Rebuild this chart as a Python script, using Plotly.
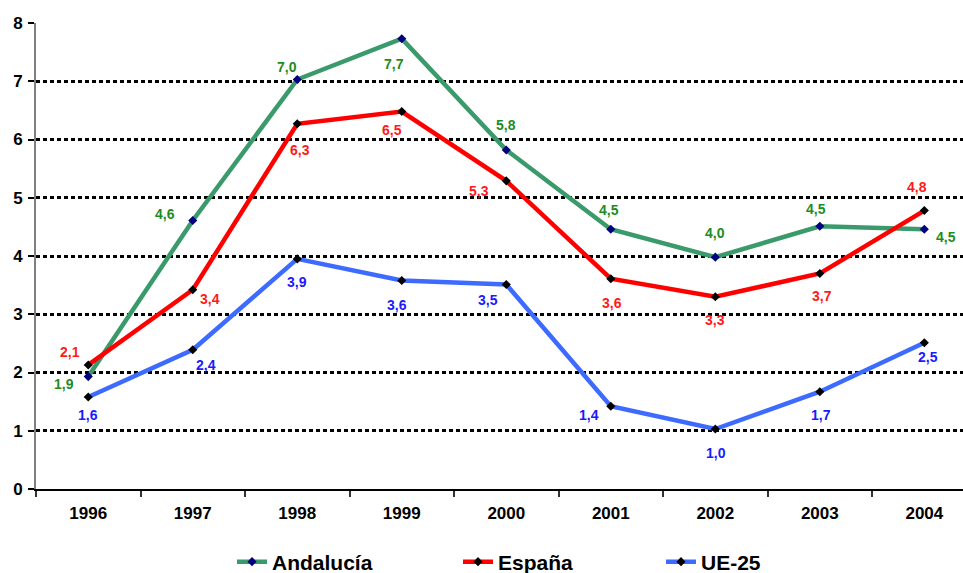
import plotly.graph_objects as go

years = ["1996", "1997", "1998", "1999", "2000", "2001", "2002", "2003", "2004"]

andalucia = [1.93, 4.61, 7.03, 7.73, 5.82, 4.46, 3.98, 4.51, 4.46]
espana = [2.13, 3.42, 6.27, 6.48, 5.29, 3.61, 3.30, 3.70, 4.78]
ue25 = [1.58, 2.39, 3.95, 3.58, 3.51, 1.42, 1.03, 1.67, 2.51]

andalucia_labels = ["1,9", "4,6", "7,0", "7,7", "5,8", "4,5", "4,0", "4,5", "4,5"]
espana_labels = ["2,1", "3,4", "6,3", "6,5", "5,3", "3,6", "3,3", "3,7", "4,8"]
ue25_labels = ["1,6", "2,4", "3,9", "3,6", "3,5", "1,4", "1,0", "1,7", "2,5"]

y_ticks = [0, 1, 2, 3, 4, 5, 6, 7, 8]

# label offsets in pixels (dx right, dy down)
andalucia_off = [(-24, 7), (-28, -6), (-10, -13), (-8, 25), (0, -25), (-2, -19), (0, -24), (-4, -17), (22, 8)]
espana_off = [(-18, -13), (17, 9), (3, 26), (-10, 18), (-27, 10), (1, 24), (0, 23), (2, 23), (-7, -24)]
ue25_off = [(0, 18), (13, 15), (0, 23), (-5, 25), (-18, 15), (-22, 9), (1, 24), (1, 23), (4, 14)]

FONT = "Liberation Sans, Arial, sans-serif"

series = [
    ("Andalucía", andalucia, andalucia_labels, andalucia_off, "#3a9a6b", "#000080", "#1e8c1e", "legend"),
    ("España", espana, espana_labels, espana_off, "#ff0000", "#000000", "#ff1a1a", "legend2"),
    ("UE-25", ue25, ue25_labels, ue25_off, "#3d6bff", "#000000", "#1a1aff", "legend3"),
]

fig = go.Figure()
annotations = []
for name, vals, labels, offs, lcol, mcol, tcol, leg in series:
    fig.add_trace(go.Scatter(
        x=years, y=vals, name=name, mode="lines+markers",
        line=dict(color=lcol, width=4.5),
        marker=dict(symbol="diamond", size=7, color=mcol),
        legend=leg,
    ))
    for idx, (yv, lab, (dx, dy)) in enumerate(zip(vals, labels, offs)):
        annotations.append(dict(
            x=idx, y=yv, xref="x", yref="y", text=lab, showarrow=False,
            xshift=dx, yshift=-dy,
            font=dict(family=FONT, size=14, color=tcol, weight="bold"),
        ))

L, T, B = 36, 23, 84
W, H = 963, 573
pw = W - L
ph = H - T - B

def px_x(p):
    return (p - L) / pw

def px_y(p):
    return (H - B - p) / ph

legfont = dict(family=FONT, size=21, color="#000000", weight="bold")
legbase = dict(orientation="h", xanchor="left", yanchor="middle", font=legfont,
               bgcolor="rgba(0,0,0,0)", borderwidth=0, itemwidth=30)

fig.update_layout(
    width=W, height=H,
    margin=dict(l=L, r=0, t=T, b=B, autoexpand=False),
    paper_bgcolor="white", plot_bgcolor="white",
    showlegend=True,
    legend=dict(x=px_x(232), y=px_y(562), **legbase),
    legend2=dict(x=px_x(458), y=px_y(562), **legbase),
    legend3=dict(x=px_x(661), y=px_y(562), **legbase),
    annotations=annotations,
    xaxis=dict(
        type="category", range=[-0.5, 8.37], automargin=False,
        showgrid=False, zeroline=False,
        showline=True, linecolor="#000000", linewidth=1.5,
        ticks="outside", tickson="boundaries", ticklen=6, tickwidth=1.5, tickcolor="#333333",
        tickfont=dict(family=FONT, size=17, color="#000000", weight="bold"),
        ticklabelstandoff=8,
    ),
    yaxis=dict(
        range=[0, 8], tickvals=y_ticks, ticktext=[str(v) for v in y_ticks], automargin=False,
        showgrid=True, gridcolor="#000000", gridwidth=2.5, griddash="4px,3px",
        zeroline=False,
        showline=True, linecolor="#808080", linewidth=2,
        ticks="outside", ticklen=6, tickwidth=2, tickcolor="#000000",
        tickfont=dict(family=FONT, size=17, color="#000000", weight="bold"),
        ticklabelstandoff=2,
    ),
)

fig.write_html(
    "out.html",
    config={"displayModeBar": False},
    post_script="document.body.style.margin='0';document.body.style.overflow='hidden';",
)
